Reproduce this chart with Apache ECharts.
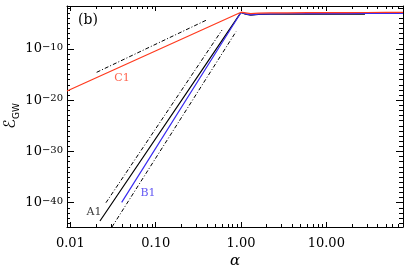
<!DOCTYPE html>
<html><head><meta charset="utf-8">
<script src="https://cdn.jsdelivr.net/npm/echarts@6/dist/echarts.min.js"></script>
<style>html,body{margin:0;padding:0;background:#fff}#c{width:407px;height:271px}</style>
</head><body><div id="c"></div>
<script>
// ---- axis ranges & ticks ----
const xMin = 0.00912, xMax = 79.3;
const yMin = 1.82e-45, yMax = 2.45e-2;
const xTickValues = [0.01, 0.1, 1, 10];
const xTickLabels = ['0.01', '0.10', '1.00', '10.00'];
const yTickValues = [1e-40, 1e-30, 1e-20, 1e-10];
const yTickLabels = ['−40', '−30', '−20', '−10'];

// ---- series data (alpha, E_GW) ----
const alphaA1 = [0.0222, 1.0, 1.13, 1.3, 1.6, 2.2, 3.5, 6, 10, 17, 28.4];
const eA1     = [2.7e-44, 1.35e-3, 6.3e-4, 4.2e-4, 5.6e-4, 6.0e-4, 6.3e-4, 6.0e-4, 6.3e-4, 6.0e-4, 6.0e-4];

const alphaB1 = [0.0399, 1.0, 1.13, 1.3, 1.6, 2.2, 3.5, 6, 10, 17, 30, 50, 79.3];
const eB1     = [1.2e-40, 1.35e-3, 7.1e-4, 4.7e-4, 6.3e-4, 7.1e-4, 7.6e-4, 7.9e-4, 7.9e-4, 8.3e-4, 8.5e-4, 8.7e-4, 8.9e-4];

const alphaC1 = [0.00912, 1.0, 1.13, 1.3, 1.6, 2.2, 3.5, 6, 10, 17, 30, 50, 79.3];
const eC1     = [6.3e-19, 1.5e-3, 1.12e-3, 7.9e-4, 1.0e-3, 1.12e-3, 1.12e-3, 1.2e-3, 1.2e-3, 1.26e-3, 1.32e-3, 1.35e-3, 1.38e-3];

// reference power laws (dash-dot)
const alphaRefC = [0.0203, 0.396];
const eRefC     = [2.8e-15, 4.6e-5];
const alphaRefA = [0.0261, 0.599];
const eRefA     = [1.0e-40, 5.1e-7];
const alphaRefB = [0.0307, 0.874];
const eRefB     = [1.82e-45, 2.4e-7];

// curve labels
const labelNames = ['A1', 'B1', 'C1'];
const labelAlpha = [0.0189, 0.0813, 0.0403];
const labelE     = [1.5e-42, 7.8e-39, 2.2e-16];

const RED = '#ff3a1e', BLUE = '#3a2cf0', BLACK = '#000';
const serif = '"DejaVu Serif", serif';

const lx = Math.log10;
const xMinor = [], yMinor = [];
for (let n = -3; n <= 1; n++) for (let k = 2; k <= 9; k++) { const v = k * Math.pow(10, n); if (v > xMin && v < xMax) xMinor.push(lx(v)); }
for (let e = Math.ceil(lx(yMin)); e <= Math.floor(lx(yMax)); e++) if (e % 10 !== 0) yMinor.push(e);

function pairs(a, b) { return a.map((v, i) => [v, b[i]]); }
function xLab(v) { const i = xTickValues.findIndex(t => Math.abs(lx(t) - v) < 1e-6); return i >= 0 ? xTickLabels[i] : ''; }
function yLab(v) { const i = yTickValues.findIndex(t => Math.abs(lx(t) - v) < 1e-6); return i >= 0 ? '{b|10}{s|' + yTickLabels[i] + '}' : ''; }

const tickAxis = (dim, pos, major, withLabel, len) => {
  const isX = dim === 'x';
  const o = {
    type: 'value', gridIndex: 0, position: pos,
    min: isX ? lx(xMin) : lx(yMin), max: isX ? lx(xMax) : lx(yMax),
    axisLine: { show: major, onZero: false, lineStyle: { color: '#000', width: 1 } },
    axisTick: { show: true, inside: true, length: len,
      customValues: major ? (isX ? xTickValues.map(lx) : yTickValues.map(lx)) : (isX ? xMinor : yMinor),
      lineStyle: { color: '#000', width: 1 } },
    axisLabel: { show: false },
    splitLine: { show: false }, silent: true
  };
  if (withLabel) {
    o.axisLabel = isX ? {
      show: true, customValues: xTickValues.map(lx), formatter: xLab, margin: 10,
      fontFamily: serif, fontSize: 13, color: '#000'
    } : {
      show: true, customValues: yTickValues.map(lx), formatter: yLab, margin: 4,
      color: '#000',
      rich: {
        b: { fontFamily: serif, fontSize: 13, lineHeight: 13, verticalAlign: 'bottom', color: '#000' },
        s: { fontFamily: serif, fontSize: 10, lineHeight: 10, padding: [0, 0, 8, 0], verticalAlign: 'top', color: '#000' }
      }
    };
  }
  return o;
};

const chart = echarts.init(document.getElementById('c'), null, { renderer: 'canvas' });
const lineS = (name, a, e, color, dash) => ({
  type: 'line', name, xAxisIndex: 0, yAxisIndex: 0, data: pairs(a, e),
  showSymbol: false, symbol: 'none', silent: true, animation: false, clip: true, z: dash ? 2 : 3,
  lineStyle: { color, width: dash ? 1 : 1.2, type: dash ? [4, 2, 1, 2] : 'solid' }
});
const lblColors = [BLACK, BLUE, RED];

chart.setOption({
  animation: false,
  grid: { left: 67, right: 4, top: 6, bottom: 44, containLabel: false, outerBoundsMode: 'none' },
  xAxis: [
    { type: 'log', gridIndex: 0, min: xMin, max: xMax, show: false, logBase: 10 },
    tickAxis('x', 'bottom', true, true, 5),
    tickAxis('x', 'bottom', false, false, 3),
    tickAxis('x', 'top', true, false, 5),
    tickAxis('x', 'top', false, false, 3)
  ],
  yAxis: [
    { type: 'log', gridIndex: 0, min: yMin, max: yMax, show: false, logBase: 10 },
    tickAxis('y', 'left', true, true, 7),
    tickAxis('y', 'left', false, false, 3),
    tickAxis('y', 'right', true, false, 7),
    tickAxis('y', 'right', false, false, 4)
  ],
  series: [
    lineS('refC', alphaRefC, eRefC, BLACK, true),
    lineS('refA', alphaRefA, eRefA, BLACK, true),
    lineS('refB', alphaRefB, eRefB, BLACK, true),
    lineS('A1', alphaA1, eA1, BLACK, false),
    lineS('B1', alphaB1, eB1, BLUE, false),
    lineS('C1', alphaC1, eC1, RED, false),
    {
      type: 'scatter', xAxisIndex: 0, yAxisIndex: 0, symbolSize: 0, silent: true, z: 5,
      data: labelNames.map((n, i) => ({ name: n, value: [labelAlpha[i], labelE[i]], label: { color: lblColors[i] } })),
      label: {
        show: true, position: 'inside', formatter: p => p.name,
        fontFamily: serif, fontSize: 11
      },
      itemStyle: { color: 'transparent' }
    }
  ],
  graphic: [
    { type: 'text', x: 88, y: 20, silent: true,
      style: { text: '(b)', font: '14px "DejaVu Serif"', fill: '#000', align: 'center', verticalAlign: 'middle', textAlign: 'center', textVerticalAlign: 'middle' } },
    { type: 'text', x: 235, y: 261, silent: true,
      style: { text: 'α', font: 'italic 15px "DejaVu Serif"', fill: '#000', align: 'center', verticalAlign: 'middle', textAlign: 'center', textVerticalAlign: 'middle' } },
    { type: 'text', x: 11, y: 116, rotation: Math.PI / 2, silent: true,
      style: { text: '{e|ℰ}{s|GW}', align: 'center', verticalAlign: 'middle', textAlign: 'center', textVerticalAlign: 'middle',
        rich: {
          e: { font: '16px "DejaVu Sans"', fill: '#000', color: '#000', lineHeight: 16, verticalAlign: 'top' },
          s: { font: '9px "DejaVu Sans"', fill: '#000', color: '#000', lineHeight: 9, padding: [9, 0, 0, 0], verticalAlign: 'top' }
        } } }
  ]
});
</script></body></html>
